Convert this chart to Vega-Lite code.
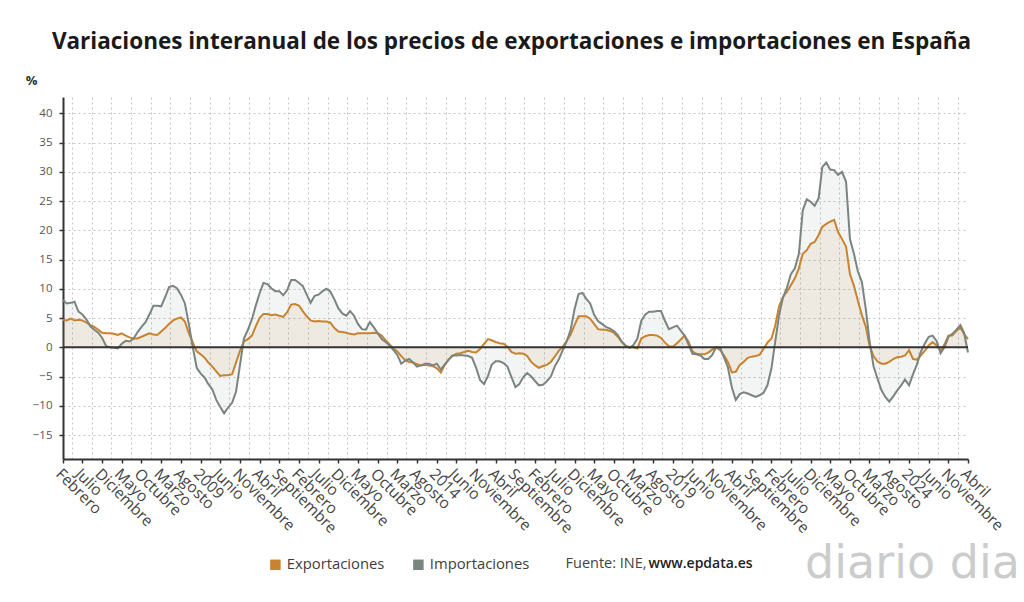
{
  "$schema": "https://vega.github.io/schema/vega-lite/v6.json",
  "width": 905,
  "height": 362,
  "autosize": {"type": "none"},
  "padding": {"left": 63, "top": 97, "right": 56, "bottom": 143},
  "background": "#ffffff",
  "config": {"font": "Open Sans", "view": {"stroke": null}},
  "title": {
    "text": "Variaciones interanual de los precios de exportaciones e importaciones en España",
    "font": "Open Sans", "fontSize": 22.5, "fontWeight": "bold", "color": "#1a1a1a",
    "anchor": "middle", "frame": "group", "offset": 21, "dx": -4
  },
  "data": {
    "format": {"parse": {"fecha": "date:'%Y-%m'"}},
    "values": [
      {"fecha": "2006-02", "Exportaciones": 4.7, "Importaciones": 8.1},
      {"fecha": "2006-03", "Exportaciones": 4.6, "Importaciones": 7.5},
      {"fecha": "2006-04", "Exportaciones": 4.9, "Importaciones": 7.6},
      {"fecha": "2006-05", "Exportaciones": 4.6, "Importaciones": 7.8},
      {"fecha": "2006-06", "Exportaciones": 4.7, "Importaciones": 6.1},
      {"fecha": "2006-07", "Exportaciones": 4.6, "Importaciones": 5.6},
      {"fecha": "2006-08", "Exportaciones": 4.2, "Importaciones": 4.8},
      {"fecha": "2006-09", "Exportaciones": 3.8, "Importaciones": 3.6},
      {"fecha": "2006-10", "Exportaciones": 3.5, "Importaciones": 3.0},
      {"fecha": "2006-11", "Exportaciones": 3.0, "Importaciones": 2.5},
      {"fecha": "2006-12", "Exportaciones": 2.5, "Importaciones": 1.6},
      {"fecha": "2007-01", "Exportaciones": 2.4, "Importaciones": 0.2},
      {"fecha": "2007-02", "Exportaciones": 2.4, "Importaciones": 0.0},
      {"fecha": "2007-03", "Exportaciones": 2.3, "Importaciones": -0.1},
      {"fecha": "2007-04", "Exportaciones": 2.1, "Importaciones": -0.2},
      {"fecha": "2007-05", "Exportaciones": 2.4, "Importaciones": 0.6},
      {"fecha": "2007-06", "Exportaciones": 2.0, "Importaciones": 1.1},
      {"fecha": "2007-07", "Exportaciones": 1.7, "Importaciones": 1.0},
      {"fecha": "2007-08", "Exportaciones": 1.5, "Importaciones": 1.5},
      {"fecha": "2007-09", "Exportaciones": 1.5, "Importaciones": 2.6},
      {"fecha": "2007-10", "Exportaciones": 1.8, "Importaciones": 3.5},
      {"fecha": "2007-11", "Exportaciones": 2.1, "Importaciones": 4.3},
      {"fecha": "2007-12", "Exportaciones": 2.4, "Importaciones": 5.6},
      {"fecha": "2008-01", "Exportaciones": 2.2, "Importaciones": 7.1},
      {"fecha": "2008-02", "Exportaciones": 2.1, "Importaciones": 7.1},
      {"fecha": "2008-03", "Exportaciones": 2.7, "Importaciones": 7.0},
      {"fecha": "2008-04", "Exportaciones": 3.3, "Importaciones": 8.6},
      {"fecha": "2008-05", "Exportaciones": 4.0, "Importaciones": 10.3},
      {"fecha": "2008-06", "Exportaciones": 4.6, "Importaciones": 10.5},
      {"fecha": "2008-07", "Exportaciones": 4.9, "Importaciones": 10.1},
      {"fecha": "2008-08", "Exportaciones": 5.1, "Importaciones": 9.0},
      {"fecha": "2008-09", "Exportaciones": 4.4, "Importaciones": 7.5},
      {"fecha": "2008-10", "Exportaciones": 2.4, "Importaciones": 4.0},
      {"fecha": "2008-11", "Exportaciones": 0.8, "Importaciones": 0.0},
      {"fecha": "2008-12", "Exportaciones": -0.7, "Importaciones": -3.5},
      {"fecha": "2009-01", "Exportaciones": -1.2, "Importaciones": -4.5},
      {"fecha": "2009-02", "Exportaciones": -1.8, "Importaciones": -5.2},
      {"fecha": "2009-03", "Exportaciones": -2.6, "Importaciones": -6.3},
      {"fecha": "2009-04", "Exportaciones": -3.3, "Importaciones": -7.2},
      {"fecha": "2009-05", "Exportaciones": -4.1, "Importaciones": -9.0},
      {"fecha": "2009-06", "Exportaciones": -4.9, "Importaciones": -10.2},
      {"fecha": "2009-07", "Exportaciones": -4.8, "Importaciones": -11.3},
      {"fecha": "2009-08", "Exportaciones": -4.8, "Importaciones": -10.3},
      {"fecha": "2009-09", "Exportaciones": -4.6, "Importaciones": -9.5},
      {"fecha": "2009-10", "Exportaciones": -2.6, "Importaciones": -7.6},
      {"fecha": "2009-11", "Exportaciones": -0.6, "Importaciones": -3.0},
      {"fecha": "2009-12", "Exportaciones": 1.0, "Importaciones": 1.5},
      {"fecha": "2010-01", "Exportaciones": 1.4, "Importaciones": 3.0},
      {"fecha": "2010-02", "Exportaciones": 2.0, "Importaciones": 4.8},
      {"fecha": "2010-03", "Exportaciones": 3.5, "Importaciones": 7.0},
      {"fecha": "2010-04", "Exportaciones": 5.0, "Importaciones": 9.2},
      {"fecha": "2010-05", "Exportaciones": 5.7, "Importaciones": 11.0},
      {"fecha": "2010-06", "Exportaciones": 5.7, "Importaciones": 10.8},
      {"fecha": "2010-07", "Exportaciones": 5.5, "Importaciones": 10.1},
      {"fecha": "2010-08", "Exportaciones": 5.6, "Importaciones": 9.6},
      {"fecha": "2010-09", "Exportaciones": 5.4, "Importaciones": 9.6},
      {"fecha": "2010-10", "Exportaciones": 5.2, "Importaciones": 8.9},
      {"fecha": "2010-11", "Exportaciones": 6.0, "Importaciones": 9.8},
      {"fecha": "2010-12", "Exportaciones": 7.3, "Importaciones": 11.5},
      {"fecha": "2011-01", "Exportaciones": 7.4, "Importaciones": 11.5},
      {"fecha": "2011-02", "Exportaciones": 7.1, "Importaciones": 11.0},
      {"fecha": "2011-03", "Exportaciones": 6.2, "Importaciones": 10.5},
      {"fecha": "2011-04", "Exportaciones": 5.3, "Importaciones": 9.0},
      {"fecha": "2011-05", "Exportaciones": 4.6, "Importaciones": 7.6},
      {"fecha": "2011-06", "Exportaciones": 4.4, "Importaciones": 8.8},
      {"fecha": "2011-07", "Exportaciones": 4.5, "Importaciones": 9.0},
      {"fecha": "2011-08", "Exportaciones": 4.4, "Importaciones": 9.6},
      {"fecha": "2011-09", "Exportaciones": 4.4, "Importaciones": 10.0},
      {"fecha": "2011-10", "Exportaciones": 4.2, "Importaciones": 9.5},
      {"fecha": "2011-11", "Exportaciones": 3.3, "Importaciones": 8.2},
      {"fecha": "2011-12", "Exportaciones": 2.7, "Importaciones": 6.7},
      {"fecha": "2012-01", "Exportaciones": 2.6, "Importaciones": 5.8},
      {"fecha": "2012-02", "Exportaciones": 2.5, "Importaciones": 5.4},
      {"fecha": "2012-03", "Exportaciones": 2.3, "Importaciones": 6.2},
      {"fecha": "2012-04", "Exportaciones": 2.2, "Importaciones": 5.4},
      {"fecha": "2012-05", "Exportaciones": 2.4, "Importaciones": 4.0},
      {"fecha": "2012-06", "Exportaciones": 2.4, "Importaciones": 3.1},
      {"fecha": "2012-07", "Exportaciones": 2.4, "Importaciones": 3.0},
      {"fecha": "2012-08", "Exportaciones": 2.4, "Importaciones": 4.3},
      {"fecha": "2012-09", "Exportaciones": 2.5, "Importaciones": 3.4},
      {"fecha": "2012-10", "Exportaciones": 2.4, "Importaciones": 2.4},
      {"fecha": "2012-11", "Exportaciones": 2.0, "Importaciones": 1.4},
      {"fecha": "2012-12", "Exportaciones": 1.2, "Importaciones": 0.9},
      {"fecha": "2013-01", "Exportaciones": 0.5, "Importaciones": 0.3},
      {"fecha": "2013-02", "Exportaciones": -0.2, "Importaciones": -0.5},
      {"fecha": "2013-03", "Exportaciones": -0.7, "Importaciones": -1.3},
      {"fecha": "2013-04", "Exportaciones": -1.5, "Importaciones": -2.8},
      {"fecha": "2013-05", "Exportaciones": -2.2, "Importaciones": -2.3},
      {"fecha": "2013-06", "Exportaciones": -2.5, "Importaciones": -2.0},
      {"fecha": "2013-07", "Exportaciones": -2.6, "Importaciones": -2.6},
      {"fecha": "2013-08", "Exportaciones": -2.9, "Importaciones": -3.3},
      {"fecha": "2013-09", "Exportaciones": -3.1, "Importaciones": -3.1},
      {"fecha": "2013-10", "Exportaciones": -3.0, "Importaciones": -2.8},
      {"fecha": "2013-11", "Exportaciones": -3.1, "Importaciones": -2.8},
      {"fecha": "2013-12", "Exportaciones": -3.2, "Importaciones": -3.1},
      {"fecha": "2014-01", "Exportaciones": -3.6, "Importaciones": -2.8},
      {"fecha": "2014-02", "Exportaciones": -4.3, "Importaciones": -3.8},
      {"fecha": "2014-03", "Exportaciones": -3.1, "Importaciones": -3.0},
      {"fecha": "2014-04", "Exportaciones": -2.1, "Importaciones": -2.2},
      {"fecha": "2014-05", "Exportaciones": -1.5, "Importaciones": -1.4},
      {"fecha": "2014-06", "Exportaciones": -1.1, "Importaciones": -1.4},
      {"fecha": "2014-07", "Exportaciones": -1.0, "Importaciones": -1.3},
      {"fecha": "2014-08", "Exportaciones": -0.8, "Importaciones": -1.4},
      {"fecha": "2014-09", "Exportaciones": -0.6, "Importaciones": -1.5},
      {"fecha": "2014-10", "Exportaciones": -0.8, "Importaciones": -1.8},
      {"fecha": "2014-11", "Exportaciones": -0.9, "Importaciones": -3.5},
      {"fecha": "2014-12", "Exportaciones": -0.3, "Importaciones": -5.6},
      {"fecha": "2015-01", "Exportaciones": 0.6, "Importaciones": -6.3},
      {"fecha": "2015-02", "Exportaciones": 1.4, "Importaciones": -4.9},
      {"fecha": "2015-03", "Exportaciones": 1.2, "Importaciones": -3.0},
      {"fecha": "2015-04", "Exportaciones": 0.9, "Importaciones": -2.4},
      {"fecha": "2015-05", "Exportaciones": 0.7, "Importaciones": -2.4},
      {"fecha": "2015-06", "Exportaciones": 0.6, "Importaciones": -2.7},
      {"fecha": "2015-07", "Exportaciones": 0.1, "Importaciones": -3.3},
      {"fecha": "2015-08", "Exportaciones": -0.8, "Importaciones": -5.1},
      {"fecha": "2015-09", "Exportaciones": -1.1, "Importaciones": -6.8},
      {"fecha": "2015-10", "Exportaciones": -1.0, "Importaciones": -6.3},
      {"fecha": "2015-11", "Exportaciones": -1.1, "Importaciones": -5.1},
      {"fecha": "2015-12", "Exportaciones": -1.5, "Importaciones": -4.4},
      {"fecha": "2016-01", "Exportaciones": -2.5, "Importaciones": -5.0},
      {"fecha": "2016-02", "Exportaciones": -3.1, "Importaciones": -5.8},
      {"fecha": "2016-03", "Exportaciones": -3.5, "Importaciones": -6.5},
      {"fecha": "2016-04", "Exportaciones": -3.2, "Importaciones": -6.4},
      {"fecha": "2016-05", "Exportaciones": -3.0, "Importaciones": -5.8},
      {"fecha": "2016-06", "Exportaciones": -2.5, "Importaciones": -5.0},
      {"fecha": "2016-07", "Exportaciones": -1.6, "Importaciones": -3.3},
      {"fecha": "2016-08", "Exportaciones": -0.6, "Importaciones": -2.1},
      {"fecha": "2016-09", "Exportaciones": 0.1, "Importaciones": -0.5},
      {"fecha": "2016-10", "Exportaciones": 1.1, "Importaciones": 1.0},
      {"fecha": "2016-11", "Exportaciones": 2.2, "Importaciones": 3.0},
      {"fecha": "2016-12", "Exportaciones": 3.8, "Importaciones": 6.5},
      {"fecha": "2017-01", "Exportaciones": 5.3, "Importaciones": 9.1},
      {"fecha": "2017-02", "Exportaciones": 5.3, "Importaciones": 9.3},
      {"fecha": "2017-03", "Exportaciones": 5.3, "Importaciones": 8.3},
      {"fecha": "2017-04", "Exportaciones": 4.9, "Importaciones": 7.5},
      {"fecha": "2017-05", "Exportaciones": 4.0, "Importaciones": 5.6},
      {"fecha": "2017-06", "Exportaciones": 3.1, "Importaciones": 4.5},
      {"fecha": "2017-07", "Exportaciones": 3.0, "Importaciones": 4.0},
      {"fecha": "2017-08", "Exportaciones": 3.0, "Importaciones": 3.5},
      {"fecha": "2017-09", "Exportaciones": 2.8, "Importaciones": 3.2},
      {"fecha": "2017-10", "Exportaciones": 2.5, "Importaciones": 2.8},
      {"fecha": "2017-11", "Exportaciones": 1.8, "Importaciones": 2.1},
      {"fecha": "2017-12", "Exportaciones": 0.9, "Importaciones": 1.0},
      {"fecha": "2018-01", "Exportaciones": 0.3, "Importaciones": 0.2},
      {"fecha": "2018-02", "Exportaciones": 0.0, "Importaciones": -0.1},
      {"fecha": "2018-03", "Exportaciones": 0.0, "Importaciones": 0.4},
      {"fecha": "2018-04", "Exportaciones": -0.2, "Importaciones": 1.5},
      {"fecha": "2018-05", "Exportaciones": 1.5, "Importaciones": 4.5},
      {"fecha": "2018-06", "Exportaciones": 1.9, "Importaciones": 5.6},
      {"fecha": "2018-07", "Exportaciones": 2.1, "Importaciones": 6.1},
      {"fecha": "2018-08", "Exportaciones": 2.1, "Importaciones": 6.1},
      {"fecha": "2018-09", "Exportaciones": 2.0, "Importaciones": 6.2},
      {"fecha": "2018-10", "Exportaciones": 1.6, "Importaciones": 6.2},
      {"fecha": "2018-11", "Exportaciones": 0.8, "Importaciones": 4.5},
      {"fecha": "2018-12", "Exportaciones": 0.2, "Importaciones": 3.1},
      {"fecha": "2019-01", "Exportaciones": 0.1, "Importaciones": 3.4},
      {"fecha": "2019-02", "Exportaciones": 0.7, "Importaciones": 3.7},
      {"fecha": "2019-03", "Exportaciones": 1.3, "Importaciones": 2.9},
      {"fecha": "2019-04", "Exportaciones": 2.0, "Importaciones": 2.0},
      {"fecha": "2019-05", "Exportaciones": 1.0, "Importaciones": 0.5},
      {"fecha": "2019-06", "Exportaciones": -0.7, "Importaciones": -1.1},
      {"fecha": "2019-07", "Exportaciones": -1.1, "Importaciones": -1.2},
      {"fecha": "2019-08", "Exportaciones": -1.2, "Importaciones": -1.4},
      {"fecha": "2019-09", "Exportaciones": -1.2, "Importaciones": -2.0},
      {"fecha": "2019-10", "Exportaciones": -0.9, "Importaciones": -2.0},
      {"fecha": "2019-11", "Exportaciones": -0.4, "Importaciones": -1.3},
      {"fecha": "2019-12", "Exportaciones": 0.0, "Importaciones": 0.0},
      {"fecha": "2020-01", "Exportaciones": -0.5, "Importaciones": -0.1},
      {"fecha": "2020-02", "Exportaciones": -1.4, "Importaciones": -1.8},
      {"fecha": "2020-03", "Exportaciones": -2.5, "Importaciones": -3.4},
      {"fecha": "2020-04", "Exportaciones": -4.3, "Importaciones": -6.9},
      {"fecha": "2020-05", "Exportaciones": -4.2, "Importaciones": -9.0},
      {"fecha": "2020-06", "Exportaciones": -3.0, "Importaciones": -8.0},
      {"fecha": "2020-07", "Exportaciones": -2.5, "Importaciones": -7.7},
      {"fecha": "2020-08", "Exportaciones": -1.8, "Importaciones": -7.9},
      {"fecha": "2020-09", "Exportaciones": -1.6, "Importaciones": -8.2},
      {"fecha": "2020-10", "Exportaciones": -1.5, "Importaciones": -8.5},
      {"fecha": "2020-11", "Exportaciones": -1.3, "Importaciones": -8.2},
      {"fecha": "2020-12", "Exportaciones": -0.3, "Importaciones": -7.8},
      {"fecha": "2021-01", "Exportaciones": 0.8, "Importaciones": -6.5},
      {"fecha": "2021-02", "Exportaciones": 1.5, "Importaciones": -3.6},
      {"fecha": "2021-03", "Exportaciones": 3.6, "Importaciones": 0.8},
      {"fecha": "2021-04", "Exportaciones": 7.0, "Importaciones": 5.5},
      {"fecha": "2021-05", "Exportaciones": 8.6, "Importaciones": 8.5},
      {"fecha": "2021-06", "Exportaciones": 9.5, "Importaciones": 10.2},
      {"fecha": "2021-07", "Exportaciones": 10.6, "Importaciones": 12.5},
      {"fecha": "2021-08", "Exportaciones": 11.8, "Importaciones": 13.5},
      {"fecha": "2021-09", "Exportaciones": 13.5, "Importaciones": 16.0},
      {"fecha": "2021-10", "Exportaciones": 16.0, "Importaciones": 23.4},
      {"fecha": "2021-11", "Exportaciones": 16.6, "Importaciones": 25.3},
      {"fecha": "2021-12", "Exportaciones": 17.7, "Importaciones": 24.9},
      {"fecha": "2022-01", "Exportaciones": 18.0, "Importaciones": 24.2},
      {"fecha": "2022-02", "Exportaciones": 19.2, "Importaciones": 25.5},
      {"fecha": "2022-03", "Exportaciones": 20.6, "Importaciones": 30.8},
      {"fecha": "2022-04", "Exportaciones": 21.1, "Importaciones": 31.6},
      {"fecha": "2022-05", "Exportaciones": 21.5, "Importaciones": 30.4},
      {"fecha": "2022-06", "Exportaciones": 21.8, "Importaciones": 30.3},
      {"fecha": "2022-07", "Exportaciones": 19.7, "Importaciones": 29.5},
      {"fecha": "2022-08", "Exportaciones": 18.5, "Importaciones": 30.0},
      {"fecha": "2022-09", "Exportaciones": 17.2, "Importaciones": 28.3},
      {"fecha": "2022-10", "Exportaciones": 12.5, "Importaciones": 18.5},
      {"fecha": "2022-11", "Exportaciones": 10.5, "Importaciones": 16.0},
      {"fecha": "2022-12", "Exportaciones": 8.0, "Importaciones": 13.0},
      {"fecha": "2023-01", "Exportaciones": 5.5, "Importaciones": 11.2},
      {"fecha": "2023-02", "Exportaciones": 3.5, "Importaciones": 6.5},
      {"fecha": "2023-03", "Exportaciones": 0.3, "Importaciones": 1.2},
      {"fecha": "2023-04", "Exportaciones": -1.5, "Importaciones": -3.2},
      {"fecha": "2023-05", "Exportaciones": -2.4, "Importaciones": -5.3},
      {"fecha": "2023-06", "Exportaciones": -2.8, "Importaciones": -7.3},
      {"fecha": "2023-07", "Exportaciones": -2.8, "Importaciones": -8.5},
      {"fecha": "2023-08", "Exportaciones": -2.5, "Importaciones": -9.3},
      {"fecha": "2023-09", "Exportaciones": -2.0, "Importaciones": -8.4},
      {"fecha": "2023-10", "Exportaciones": -1.7, "Importaciones": -7.4},
      {"fecha": "2023-11", "Exportaciones": -1.6, "Importaciones": -6.5},
      {"fecha": "2023-12", "Exportaciones": -1.4, "Importaciones": -5.5},
      {"fecha": "2024-01", "Exportaciones": -0.5, "Importaciones": -6.5},
      {"fecha": "2024-02", "Exportaciones": -2.0, "Importaciones": -4.6},
      {"fecha": "2024-03", "Exportaciones": -2.1, "Importaciones": -3.0},
      {"fecha": "2024-04", "Exportaciones": -1.4, "Importaciones": -0.8},
      {"fecha": "2024-05", "Exportaciones": -0.6, "Importaciones": 0.6},
      {"fecha": "2024-06", "Exportaciones": 0.3, "Importaciones": 1.8},
      {"fecha": "2024-07", "Exportaciones": 0.9, "Importaciones": 2.0},
      {"fecha": "2024-08", "Exportaciones": 0.3, "Importaciones": 1.1},
      {"fecha": "2024-09", "Exportaciones": -0.6, "Importaciones": -1.0},
      {"fecha": "2024-10", "Exportaciones": 0.5, "Importaciones": 0.0},
      {"fecha": "2024-11", "Exportaciones": 2.0, "Importaciones": 1.8},
      {"fecha": "2024-12", "Exportaciones": 2.0, "Importaciones": 2.3},
      {"fecha": "2025-01", "Exportaciones": 2.8, "Importaciones": 3.0},
      {"fecha": "2025-02", "Exportaciones": 3.4, "Importaciones": 3.8},
      {"fecha": "2025-03", "Exportaciones": 2.3, "Importaciones": 2.5},
      {"fecha": "2025-04", "Exportaciones": 1.4, "Importaciones": -0.9}
    ]
  },
  "transform": [{"fold": ["Exportaciones", "Importaciones"], "as": ["serie", "valor"]}],
  "resolve": {"axis": {"x": "independent", "y": "independent"}},
  "layer": [
    {
      "mark": {"type": "area", "fillOpacity": 0.09},
      "encoding": {
        "x": {
          "field": "fecha", "type": "temporal",
          "scale": {"domain": [{"year": 2006, "month": 2, "date": 1}, {"year": 2025, "month": 4, "date": 1}]},
          "axis": {
            "orient": "top", "grid": true, "gridColor": "#c4c4c4", "gridDash": [2, 3], "gridWidth": 1,
            "labels": false, "ticks": false, "domain": false,
            "values": [
              {"year": 2006, "month": 4, "date": 10}, {"year": 2006, "month": 9, "date": 10},
              {"year": 2007, "month": 2, "date": 10}, {"year": 2007, "month": 7, "date": 10},
              {"year": 2007, "month": 12, "date": 10}, {"year": 2008, "month": 5, "date": 10},
              {"year": 2008, "month": 10, "date": 10}, {"year": 2009, "month": 3, "date": 10},
              {"year": 2009, "month": 8, "date": 10}, {"year": 2010, "month": 1, "date": 10},
              {"year": 2010, "month": 6, "date": 10}, {"year": 2010, "month": 11, "date": 10},
              {"year": 2011, "month": 4, "date": 10}, {"year": 2011, "month": 9, "date": 10},
              {"year": 2012, "month": 2, "date": 10}, {"year": 2012, "month": 7, "date": 10},
              {"year": 2012, "month": 12, "date": 10}, {"year": 2013, "month": 5, "date": 10},
              {"year": 2013, "month": 10, "date": 10}, {"year": 2014, "month": 3, "date": 10},
              {"year": 2014, "month": 8, "date": 10}, {"year": 2015, "month": 1, "date": 10},
              {"year": 2015, "month": 6, "date": 10}, {"year": 2015, "month": 11, "date": 10},
              {"year": 2016, "month": 4, "date": 10}, {"year": 2016, "month": 9, "date": 10},
              {"year": 2017, "month": 2, "date": 10}, {"year": 2017, "month": 7, "date": 10},
              {"year": 2017, "month": 12, "date": 10}, {"year": 2018, "month": 5, "date": 10},
              {"year": 2018, "month": 10, "date": 10}, {"year": 2019, "month": 3, "date": 10},
              {"year": 2019, "month": 8, "date": 10}, {"year": 2020, "month": 1, "date": 10},
              {"year": 2020, "month": 6, "date": 10}, {"year": 2020, "month": 11, "date": 10},
              {"year": 2021, "month": 4, "date": 10}, {"year": 2021, "month": 9, "date": 10},
              {"year": 2022, "month": 2, "date": 10}, {"year": 2022, "month": 7, "date": 10},
              {"year": 2022, "month": 12, "date": 10}, {"year": 2023, "month": 5, "date": 10},
              {"year": 2023, "month": 10, "date": 10}, {"year": 2024, "month": 3, "date": 10},
              {"year": 2024, "month": 8, "date": 10}, {"year": 2025, "month": 1, "date": 10}
            ],
            "title": "www.epdata.es", "titleFont": "Open Sans", "titleFontWeight": 600, "titleFontSize": 14,
            "titleColor": "#222222", "titleX": 585, "titleY": 466, "titleAlign": "left", "titleBaseline": "middle", "titleAngle": 0
          }
        },
        "y": {
          "field": "valor", "type": "quantitative", "stack": null,
          "scale": {"domain": [-19.1, 42.8], "nice": false, "zero": false},
          "axis": {
            "orient": "right", "grid": false, "labels": false, "ticks": false, "domain": false,
            "title": "diario dia", "titleFont": "DejaVu Sans", "titleFontWeight": "normal", "titleFontSize": 46,
            "titleColor": "#cccccc", "titleAngle": 0, "titleX": -56, "titleY": 466, "titleAlign": "center", "titleBaseline": "middle"
          }
        },
        "y2": {"datum": 0},
        "fill": {
          "field": "serie", "type": "nominal",
          "scale": {"domain": ["Exportaciones", "Importaciones"], "range": ["#c9832f", "#7a8580"]},
          "legend": {
            "orient": "none", "legendX": 205, "legendY": 460, "direction": "horizontal", "title": null,
            "symbolType": "square", "symbolSize": 110, "symbolStrokeWidth": 0,
            "labelFont": "Open Sans", "labelFontSize": 14.8, "labelColor": "#3d3d3d", "labelOffset": 4,
            "columnPadding": 26,
            "encode": {"symbols": {"update": {"fill": {"scale": "color", "field": "value"}, "fillOpacity": {"value": 1}, "opacity": {"value": 1}}}}
          }
        }
      }
    },
    {
      "mark": {"type": "line", "strokeWidth": 2},
      "encoding": {
        "x": {
          "field": "fecha", "type": "temporal",
          "axis": {
            "orient": "bottom", "grid": false, "domain": true, "domainColor": "#333333", "domainWidth": 2,
            "ticks": true, "tickColor": "#333333", "tickSize": 4, "tickWidth": 1.5,
            "labelAngle": 45, "labelAlign": "left", "labelBaseline": "top", "labelPadding": 3,
            "labelFont": "Open Sans", "labelFontSize": 15.5, "labelColor": "#444444",
            "labelOverlap": false, "labelFlush": false, "labelBound": false,
            "values": [
              {"year": 2006, "month": 2, "date": 1}, {"year": 2006, "month": 7, "date": 1},
              {"year": 2006, "month": 12, "date": 1}, {"year": 2007, "month": 5, "date": 1},
              {"year": 2007, "month": 10, "date": 1}, {"year": 2008, "month": 3, "date": 1},
              {"year": 2008, "month": 8, "date": 1}, {"year": 2009, "month": 1, "date": 1},
              {"year": 2009, "month": 6, "date": 1}, {"year": 2009, "month": 11, "date": 1},
              {"year": 2010, "month": 4, "date": 1}, {"year": 2010, "month": 9, "date": 1},
              {"year": 2011, "month": 2, "date": 1}, {"year": 2011, "month": 7, "date": 1},
              {"year": 2011, "month": 12, "date": 1}, {"year": 2012, "month": 5, "date": 1},
              {"year": 2012, "month": 10, "date": 1}, {"year": 2013, "month": 3, "date": 1},
              {"year": 2013, "month": 8, "date": 1}, {"year": 2014, "month": 1, "date": 1},
              {"year": 2014, "month": 6, "date": 1}, {"year": 2014, "month": 11, "date": 1},
              {"year": 2015, "month": 4, "date": 1}, {"year": 2015, "month": 9, "date": 1},
              {"year": 2016, "month": 2, "date": 1}, {"year": 2016, "month": 7, "date": 1},
              {"year": 2016, "month": 12, "date": 1}, {"year": 2017, "month": 5, "date": 1},
              {"year": 2017, "month": 10, "date": 1}, {"year": 2018, "month": 3, "date": 1},
              {"year": 2018, "month": 8, "date": 1}, {"year": 2019, "month": 1, "date": 1},
              {"year": 2019, "month": 6, "date": 1}, {"year": 2019, "month": 11, "date": 1},
              {"year": 2020, "month": 4, "date": 1}, {"year": 2020, "month": 9, "date": 1},
              {"year": 2021, "month": 2, "date": 1}, {"year": 2021, "month": 7, "date": 1},
              {"year": 2021, "month": 12, "date": 1}, {"year": 2022, "month": 5, "date": 1},
              {"year": 2022, "month": 10, "date": 1}, {"year": 2023, "month": 3, "date": 1},
              {"year": 2023, "month": 8, "date": 1}, {"year": 2024, "month": 1, "date": 1},
              {"year": 2024, "month": 6, "date": 1}, {"year": 2024, "month": 11, "date": 1},
              {"year": 2025, "month": 4, "date": 1}
            ],
            "labelExpr": "month(datum.value) == 0 ? timeFormat(datum.value, '%Y') : ['Enero','Febrero','Marzo','Abril','Mayo','Junio','Julio','Agosto','Septiembre','Octubre','Noviembre','Diciembre'][month(datum.value)]",
            "title": "Fuente: INE,", "titleFont": "Open Sans", "titleFontWeight": "normal", "titleFontSize": 14.5,
            "titleColor": "#444444", "titleX": 502, "titleY": 104, "titleAlign": "left", "titleBaseline": "middle", "titleAngle": 0
          }
        },
        "y": {
          "field": "valor", "type": "quantitative",
          "axis": {
            "orient": "left", "values": [-15, -10, -5, 0, 5, 10, 15, 20, 25, 30, 35, 40],
            "grid": true, "gridColor": "#c4c4c4", "gridDash": [2, 3], "gridWidth": 1,
            "domain": true, "domainColor": "#333333", "domainWidth": 2,
            "ticks": true, "tickColor": "#333333", "tickSize": 4, "tickWidth": 1.5,
            "labelFont": "Open Sans", "labelFontSize": 11.5, "labelColor": "#555555", "labelPadding": 7,
            "title": "%", "titleFont": "Open Sans", "titleFontWeight": "bold", "titleFontSize": 13, "titleColor": "#333333",
            "titleAngle": 0, "titleX": -32, "titleY": -17, "titleAlign": "center", "titleBaseline": "middle"
          }
        },
        "color": {
          "field": "serie", "type": "nominal",
          "scale": {"domain": ["Exportaciones", "Importaciones"], "range": ["#c9832f", "#7a8580"]},
          "legend": {
            "orient": "none", "legendX": 205, "legendY": 460, "direction": "horizontal", "title": null,
            "symbolType": "square", "symbolSize": 110, "symbolStrokeWidth": 0,
            "labelFont": "Open Sans", "labelFontSize": 14.8, "labelColor": "#3d3d3d", "labelOffset": 4,
            "columnPadding": 26,
            "encode": {"symbols": {"update": {"fill": {"scale": "color", "field": "value"}, "fillOpacity": {"value": 1}, "opacity": {"value": 1}}}}
          }
        }
      }
    },
    {
      "data": {"values": [{"cero": 0}]},
      "mark": {"type": "rule", "color": "#333333", "strokeWidth": 2},
      "encoding": {"y": {"datum": 0, "type": "quantitative", "axis": null}}
    }
  ]
}
